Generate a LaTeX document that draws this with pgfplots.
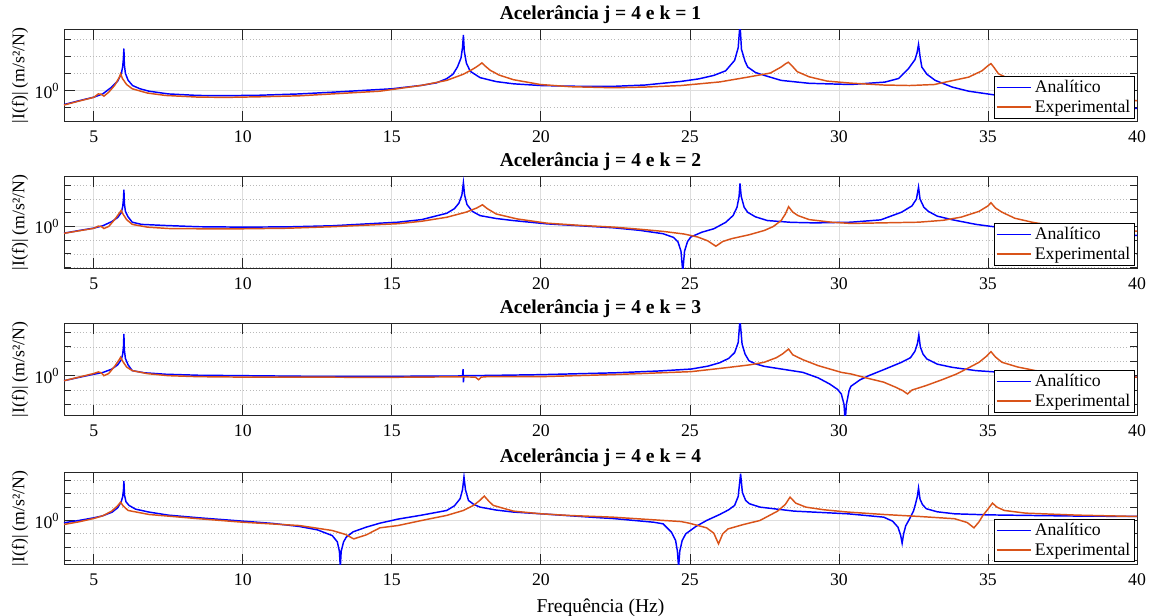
\documentclass[border=0pt]{standalone}
\usepackage{fontspec}
\setmainfont{Liberation Serif}
\usepackage{pgfplots}
\pgfplotsset{compat=1.18}
\usepackage{pgfplotstable}
\definecolor{ana}{RGB}{0,0,255}
\definecolor{expe}{RGB}{217,83,25}
\definecolor{axc}{RGB}{38,38,38}
\definecolor{gridc}{RGB}{222,222,222}
\newcommand{\fs}{\fontsize{13.3}{15}\selectfont}
\newcommand{\fl}{\fontsize{14.7}{16}\selectfont}

% columns: frequency (Hz), log10 of |I(f)|
\pgfplotstableread{
x L
4.0 -0.82
4.5 -0.6
5.0 -0.39
5.3 -0.2
5.6 0.2
5.8 0.55
5.92 0.95
5.97 1.4
5.995 1.9
6.01 2.45
6.025 1.5
6.06 1.0
6.15 0.6
6.3 0.29
6.55 0.1
6.85 -0.04
7.5 -0.2
8.5 -0.29
9.5 -0.3
10.5 -0.28
11.9 -0.2
13 -0.1
14 0.0
15 0.1
16 0.3
16.5 0.45
16.84 0.69
17.05 0.95
17.2 1.37
17.32 1.9
17.37 2.5
17.40 3.24
17.43 2.3
17.5 1.6
17.63 1.12
17.96 0.75
18.5 0.52
19.08 0.39
20 0.29
21 0.25
22.4 0.24
23.5 0.32
24.7 0.53
25.3 0.68
25.8 0.88
26.2 1.15
26.5 1.76
26.62 2.5
26.68 3.9
26.73 2.4
26.85 1.7
26.94 1.37
27.2 1.05
27.5 0.88
28.06 0.59
29 0.42
30.4 0.35
31.54 0.49
32.0 0.7
32.33 1.27
32.55 1.8
32.62 2.2
32.67 2.69
32.72 2.0
32.78 1.37
32.95 0.95
33.23 0.59
33.8 0.2
34.35 -0.04
35.5 -0.33
37 -0.6
38.5 -0.85
40 -1.05
}\pOneA
\pgfplotstableread{
x L
4.0 -0.85
4.5 -0.62
5.0 -0.4
5.15 -0.2
5.25 -0.22
5.34 -0.33
5.5 -0.1
5.7 0.3
5.85 0.75
5.9 0.98
5.96 0.7
6.1 0.35
6.29 0.1
6.8 -0.15
7.41 -0.29
8.54 -0.39
9.5 -0.4
10.5 -0.37
11.9 -0.31
13.5 -0.15
14.6 -0.04
16 0.3
16.84 0.59
17.4 0.95
17.74 1.27
17.9 1.45
18.02 1.61
18.15 1.4
18.3 1.18
18.6 0.9
19.08 0.63
19.98 0.35
21 0.22
22.45 0.16
23.5 0.2
24.7 0.29
26 0.5
26.94 0.78
27.7 1.02
28.06 1.37
28.2 1.55
28.3 1.65
28.42 1.45
28.6 1.1
29 0.8
29.6 0.55
30.4 0.43
31.5 0.32
32.37 0.29
33.2 0.35
34.35 0.78
34.8 1.15
35.0 1.45
35.1 1.57
35.2 1.35
35.35 0.98
35.8 0.6
36.5 0.3
38 -0.1
40 -0.6
}\pOneE

\pgfplotstableread{
x L
4.0 -0.49
4.5 -0.3
5.0 -0.12
5.3 0.05
5.6 0.35
5.8 0.65
5.92 1.0
5.97 1.45
5.995 2.0
6.01 2.68
6.025 1.7
6.06 1.1
6.15 0.7
6.29 0.31
6.6 0.15
7.41 0.07
8.5 -0.02
10 -0.05
11.5 -0.03
13.0 0.05
14.6 0.24
15.2 0.31
16.0 0.5
16.84 0.96
17.1 1.3
17.25 1.7
17.35 2.3
17.40 3.19
17.44 2.3
17.52 1.6
17.7 1.1
17.96 0.79
18.5 0.58
19.07 0.43
20.2 0.19
21.3 0.05
22.45 -0.1
23.3 -0.28
24.1 -0.53
24.45 -0.8
24.6 -1.13
24.7 -1.8
24.76 -3.3
24.82 -1.8
24.92 -1.1
25.03 -0.77
25.4 -0.42
25.8 -0.17
26.2 0.3
26.45 0.8
26.58 1.4
26.65 2.2
26.68 3.14
26.72 2.2
26.82 1.4
26.94 1.03
27.2 0.7
27.6 0.43
28.4 0.3
29.2 0.26
30.4 0.31
31.4 0.48
32.1 1.04
32.45 1.5
32.6 2.0
32.67 2.87
32.72 2.0
32.85 1.4
33.0 1.1
33.3 0.75
33.8 0.49
34.6 0.15
35.47 -0.1
37 -0.35
38.5 -0.52
40 -0.66
}\pTwoA
\pgfplotstableread{
x L
4.0 -0.5
4.5 -0.32
5.0 -0.14
5.15 0.02
5.25 0.0
5.34 -0.15
5.5 0.0
5.7 0.5
5.85 0.95
5.92 1.17
5.98 0.9
6.1 0.5
6.29 0.15
6.8 -0.05
7.5 -0.15
8.5 -0.17
10 -0.17
11.5 -0.13
13 -0.02
14.6 0.14
15.2 0.2
16.0 0.38
16.84 0.67
17.5 1.05
17.85 1.35
18.04 1.58
18.2 1.3
18.5 0.91
19.2 0.55
20.2 0.24
21.3 0.08
22.45 -0.05
23.3 -0.2
24.1 -0.36
24.8 -0.55
25.26 -0.77
25.6 -1.05
25.87 -1.44
26.1 -1.1
26.4 -0.89
27.0 -0.6
27.5 -0.29
27.8 0.0
28.06 0.43
28.2 0.9
28.31 1.44
28.45 1.05
28.63 0.79
29.0 0.5
29.75 0.31
30.4 0.22
31.4 0.26
32.67 0.31
33.5 0.45
34.1 0.68
34.7 1.1
35.0 1.5
35.1 1.73
35.25 1.35
35.47 1.04
35.9 0.6
36.5 0.3
37.15 0.07
38.5 -0.15
40 -0.34
}\pTwoE

\pgfplotstableread{
x L
4.0 -0.35
4.5 -0.12
5.0 0.1
5.3 0.22
5.6 0.45
5.8 0.75
5.92 1.1
5.97 1.5
5.995 2.0
6.01 2.9
6.025 1.8
6.06 1.2
6.15 0.75
6.29 0.35
6.7 0.2
7.41 0.1
8.5 0.03
10 0.0
12 -0.04
14.6 -0.05
17.37 -0.02
17.39 0.46
17.40 -0.46
17.42 0.0
18 0.01
20 0.07
22.5 0.2
24.0 0.33
25.04 0.46
25.6 0.66
26.0 0.9
26.3 1.2
26.5 1.6
26.62 2.3
26.68 3.9
26.75 2.2
26.85 1.5
26.98 1.04
27.2 0.82
27.49 0.65
28.2 0.42
28.79 0.23
29.3 -0.15
29.69 -0.58
29.95 -0.95
30.08 -1.27
30.17 -2.0
30.21 -3.2
30.25 -2.0
30.34 -1.04
30.4 -0.74
30.7 -0.3
31.0 0.0
31.54 0.45
32.1 0.93
32.4 1.25
32.55 1.7
32.63 2.2
32.68 2.83
32.73 2.0
32.82 1.5
32.95 1.16
33.3 0.8
33.8 0.58
34.6 0.35
35.47 0.23
37 0.1
38.5 0.0
40 -0.11
}\pThreeA
\pgfplotstableread{
x L
4.0 -0.35
4.5 -0.1
5.0 0.15
5.15 0.26
5.25 0.2
5.34 0.0
5.5 0.15
5.7 0.65
5.85 1.1
5.9 1.28
5.97 1.0
6.1 0.6
6.29 0.35
6.8 0.14
7.5 0.0
8.5 -0.07
10 -0.1
12 -0.1
14.6 -0.12
16 -0.1
17.3 -0.08
17.8 -0.1
17.91 -0.28
18.0 -0.1
18.2 -0.07
20 -0.07
22.5 0.08
25.04 0.28
26.2 0.55
27.0 0.75
27.49 0.93
27.9 1.25
28.1 1.5
28.31 1.85
28.45 1.45
28.79 1.11
29.3 0.7
30.08 0.23
30.4 0.12
31.0 -0.2
31.5 -0.45
31.9 -0.8
32.15 -1.05
32.3 -1.27
32.45 -1.0
32.92 -0.69
33.5 -0.25
33.95 0.12
34.4 0.6
34.7 0.93
34.95 1.35
35.1 1.67
35.25 1.3
35.47 0.93
36 0.6
36.6 0.35
37.7 0.12
40 -0.11
}\pThreeE

\pgfplotstableread{
x L
4.0 -0.17
4.5 0.0
5.0 0.2
5.3 0.35
5.62 0.63
5.8 0.95
5.92 1.4
5.97 1.8
5.995 2.3
6.01 2.96
6.03 1.9
6.08 1.4
6.18 1.13
6.4 0.85
6.85 0.63
7.5 0.4
8.53 0.2
10 -0.05
11.0 -0.22
11.9 -0.45
12.5 -0.7
13.0 -1.13
13.17 -1.6
13.24 -2.3
13.27 -3.5
13.3 -2.3
13.38 -1.6
13.47 -1.25
13.7 -0.85
14.14 -0.5
14.6 -0.2
15.0 0.0
15.2 0.1
16.0 0.4
16.84 0.75
17.1 1.1
17.29 1.63
17.37 2.3
17.42 3.26
17.47 2.3
17.57 1.5
17.75 1.2
17.96 1.0
18.5 0.78
19.08 0.63
20.0 0.5
21 0.35
22.0 0.2
22.4 0.15
23.78 -0.13
24.1 -0.25
24.38 -0.88
24.52 -1.5
24.58 -2.3
24.62 -3.5
24.66 -2.3
24.74 -1.5
24.86 -1.0
25.2 -0.45
25.56 0.0
26.0 0.45
26.3 0.8
26.5 1.13
26.62 1.8
26.7 3.51
26.76 2.1
26.87 1.5
27.0 1.25
27.35 1.0
28.5 0.7
30.3 0.5
31.5 0.25
31.8 -0.05
31.98 -0.5
32.07 -1.1
32.12 -1.7
32.17 -1.0
32.24 -0.4
32.34 0.0
32.5 0.7
32.57 1.25
32.63 1.8
32.67 2.43
32.72 1.6
32.8 1.2
32.93 0.88
33.3 0.65
33.88 0.5
35 0.42
36.26 0.38
38 0.33
40 0.3
}\pFourA
\pgfplotstableread{
x L
4.0 -0.3
4.5 -0.1
5.0 0.15
5.3 0.35
5.6 0.7
5.8 1.1
5.9 1.38
5.98 1.1
6.15 0.75
6.85 0.45
8.53 0.13
10 -0.13
11.9 -0.38
13.0 -0.75
13.45 -1.05
13.72 -1.38
13.9 -1.25
14.14 -1.08
14.6 -0.55
15.2 -0.38
16.0 0.0
16.84 0.38
17.4 0.75
17.74 1.13
17.95 1.5
18.1 1.83
18.25 1.45
18.4 1.13
19.08 0.7
20.0 0.5
21.0 0.37
22.4 0.25
23.78 0.05
24.7 -0.08
24.97 -0.2
25.56 -0.55
25.8 -0.95
25.96 -1.75
26.1 -1.0
26.28 -0.63
26.8 -0.3
27.35 0.0
27.94 0.7
28.2 1.2
28.36 1.75
28.55 1.3
28.89 1.0
29.5 0.8
30.3 0.63
31.5 0.45
32.7 0.3
33.88 0.13
34.3 -0.15
34.53 -0.55
34.7 -0.1
34.83 0.38
35.0 0.85
35.15 1.3
35.3 1.0
35.55 0.75
36.26 0.55
38 0.4
40 0.3
}\pFourE

\pgfplotsset{
  frf/.style={
    scale only axis, width=804.75pt, height=69.5pt,
    xmin=4, xmax=40, xtick={5,10,...,40},
    grid=both,
    major grid style={gridc, line width=0.6pt},
    minor grid style={gray!55, dotted, line width=0.5pt},
    axis line style={axc, line width=0.6pt},
    tick style={axc, line width=0.6pt},
    major tick length=8pt, minor tick length=5pt,
    tick label style={font=\fs},
    xticklabel style={yshift=-3.5pt},
    /pgf/number format/assume math mode=true,
    title style={font=\fl\bfseries, yshift=-5.5pt},
    ylabel={|I(f)| (m/s²/N)}, ylabel style={font=\fs, yshift=-2pt},
    legend style={at={(0.998,0.03)}, anchor=south east, draw=black, fill=white,
      font=\fs, inner sep=1.2pt, row sep=0pt},
    legend cell align=left,
    legend image code/.code={\draw[line width=1.2pt, ##1] (0pt,0pt) -- (26pt,0pt);},
    every axis plot/.append style={line width=1.1pt},
  }
}

\begin{document}
\begin{tikzpicture}
\path[use as bounding box] (-48pt,21.75pt) rectangle (816.75pt,-439.5pt);

\begin{axis}[ymode=log, frf, ytick={1}, yticklabels={10\textsuperscript{0}},
  minor ytick={1e-3,1e-2,1e-1,1e1,1e2,1e3},
  at={(0pt,0pt)}, anchor=north west, ymin=0.01514, ymax=3890,
  title={Acelerância j = 4 e k = 1}]
\addplot[color=ana] table[x=x, y expr=10^(\thisrow{L})] {\pOneA}; \addlegendentry{Analítico}
\addplot[color=expe] table[x=x, y expr=10^(\thisrow{L})] {\pOneE}; \addlegendentry{Experimental}
\end{axis}

\begin{axis}[ymode=log, frf, ytick={1}, yticklabels={10\textsuperscript{0}},
  minor ytick={1e-3,1e-2,1e-1,1e1,1e2,1e3},
  at={(0pt,-110.25pt)}, anchor=north west, ymin=8.318e-4, ymax=4786,
  title={Acelerância j = 4 e k = 2}]
\addplot[color=ana] table[x=x, y expr=10^(\thisrow{L})] {\pTwoA}; \addlegendentry{Analítico}
\addplot[color=expe] table[x=x, y expr=10^(\thisrow{L})] {\pTwoE}; \addlegendentry{Experimental}
\end{axis}

\begin{axis}[ymode=log, frf, ytick={1}, yticklabels={10\textsuperscript{0}},
  minor ytick={1e-3,1e-2,1e-1,1e1,1e2,1e3},
  at={(0pt,-220.5pt)}, anchor=north west, ymin=1.66e-3, ymax=4571,
  title={Acelerância j = 4 e k = 3}]
\addplot[color=ana] table[x=x, y expr=10^(\thisrow{L})] {\pThreeA}; \addlegendentry{Analítico}
\addplot[color=expe] table[x=x, y expr=10^(\thisrow{L})] {\pThreeE}; \addlegendentry{Experimental}
\end{axis}

\begin{axis}[ymode=log, frf, ytick={1}, yticklabels={10\textsuperscript{0}},
  minor ytick={1e-3,1e-2,1e-1,1e1,1e2,1e3},
  at={(0pt,-332.25pt)}, anchor=north west, ymin=4.898e-4, ymax=4266,
  title={Acelerância j = 4 e k = 4}, xlabel={Frequência (Hz)}, xlabel style={font=\fl, yshift=-3pt}]
\addplot[color=ana] table[x=x, y expr=10^(\thisrow{L})] {\pFourA}; \addlegendentry{Analítico}
\addplot[color=expe] table[x=x, y expr=10^(\thisrow{L})] {\pFourE}; \addlegendentry{Experimental}
\end{axis}
\end{tikzpicture}
\end{document}
